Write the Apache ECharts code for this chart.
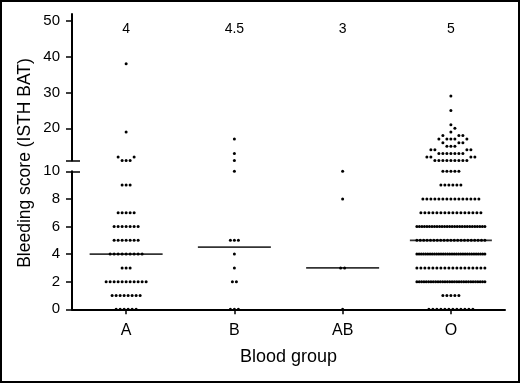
<!DOCTYPE html>
<html>
<head>
<meta charset="utf-8">
<script src="https://cdn.jsdelivr.net/npm/echarts@6/dist/echarts.min.js"></script>
<style>
html,body{margin:0;padding:0;background:#fff;}
#chart{width:520px;height:384px;}
</style>
</head>
<body>
<div id="chart"></div>
<script>
// ---- data (score, number of patients) ----
const categories = ['A', 'B', 'AB', 'O'];
const medianLabels = ['4', '4.5', '3', '5'];
const medians = [4, 4.5, 3, 5];
const groupA = [[0,6],[1,8],[2,11],[3,3],[4,9],[5,7],[6,7],[7,5],[9,3],[11,3],[12,2],[19,1],[38,1]];
const groupB = [[0,3],[2,2],[3,1],[4,1],[5,3],[10,1],[11,1],[13,1],[17,1]];
const groupAB = [[0,1],[3,2],[8,1],[10,1]];
const groupO = [[0,12],[1,5],[2,30],[3,18],[4,32],[5,21],[6,28],[7,16],[8,15],[9,6],[10,5],
  [11,9],[12,4],[13,7],[14,4],[15,3],[16,3],[17,5],[18,3],[19,1],[20,1],[21,1],[25,1],[29,1]];
const lowerTicks = [0, 2, 4, 6, 8, 10];
const upperTicks = [20, 30, 40, 50];
const lowerRange = [0, 10];
const upperRange = [11, 51.9];

// ---- styles ----
const FONT = 'Liberation Sans, Arial, Helvetica, sans-serif';
const medianLineWidths = [73, 73, 73, 82];

const groups = [groupA, groupB, groupAB, groupO];
const lowerPts = [], upperPts = [];
groups.forEach((g, ci) => {
  g.forEach(([score, n]) => {
    for (let k = 0; k < n; k++) {
      (score <= lowerRange[1] ? lowerPts : upperPts).push([ci, score]);
    }
  });
});

// beeswarm layout in pixel space (coordinates from the axes)
function swarm(points, px) {
  const S = 4, H = 4, MAXSPAN = 68, EPS = 1e-6;
  const out = new Array(points.length);
  const byCat = {};
  points.forEach((p, i) => { (byCat[p[0]] = byCat[p[0]] || []).push(i); });
  Object.keys(byCat).forEach(c => {
    const rows = {};
    byCat[c].forEach(i => { (rows[points[i][1]] = rows[points[i][1]] || []).push(i); });
    const keys = Object.keys(rows).map(Number).sort((a, b) => a - b);
    const placed = [];
    keys.forEach(k => {
      const mem = rows[k];
      const n = mem.length;
      const cx = px[mem[0]][0], cy = px[mem[0]][1];
      const sp = n > 1 ? Math.min(S, MAXSPAN / (n - 1)) : 0;
      const compact = mem.map((_, j) => (j - (n - 1) / 2) * sp);
      const near = placed.filter(q => Math.abs(q.y - cy) < H);
      const hit = (x, list) => list.some(q => Math.abs(q.x - x) < S - EPS);
      let xs;
      if (!compact.some(x => hit(x, near))) {
        xs = compact;
      } else {
        xs = [];
        for (let j = 0; j < n; j++) {
          const all = near.concat(xs.map(x => ({x: x, y: cy})));
          const cands = [0];
          all.forEach(q => { cands.push(q.x + S, q.x - S); });
          cands.sort((a, b) => (Math.abs(a) - Math.abs(b)) || (b - a));
          const x = cands.find(v => !hit(v, all));
          xs.push(x);
        }
      }
      xs.forEach((x, j) => {
        out[mem[j]] = [cx + x, cy];
        placed.push({x: x, y: cy});
      });
    });
  });
  return out;
}

function swarmSeries(axisIdx, points) {
  const cache = {px: null, pos: null};
  return {
    type: 'custom',
    xAxisIndex: axisIdx,
    yAxisIndex: axisIdx,
    data: points,
    silent: true,
    z: 3,
    renderItem: function (params, api) {
      const i = params.dataIndex;
      const c = api.coord(points[i]);
      if (!cache.pos || !cache.px || Math.abs(cache.px[i][0] - c[0]) > 0.01 || Math.abs(cache.px[i][1] - c[1]) > 0.01) {
        cache.px = points.map(p => api.coord(p));
        cache.pos = swarm(points, cache.px);
      }
      const p = cache.pos[i];
      return {type: 'circle', shape: {cx: p[0], cy: p[1], r: 1.5}, style: {fill: '#000'}};
    }
  };
}

const chart = echarts.init(document.getElementById('chart'), null, {renderer: 'canvas'});
const axisLine = {show: true, lineStyle: {color: '#000', width: 2}};
const tickStyle = {color: '#000', width: 1.5};

chart.setOption({
  animation: false,
  backgroundColor: '#fff',
  grid: [
    {left: 72, right: 15, top: 14, bottom: 223.4},
    {left: 72, right: 15, top: 171.3, bottom: 74.7}
  ],
  xAxis: [
    {
      type: 'category', gridIndex: 0, position: 'top', data: categories,
      axisLine: {show: false}, axisTick: {show: false}, splitLine: {show: false},
      axisLabel: {inside: true, margin: 8, color: '#000', fontSize: 14, fontFamily: FONT,
        formatter: (v, idx) => medianLabels[idx]}
    },
    {
      type: 'category', gridIndex: 1, position: 'bottom', data: categories,
      axisLine: axisLine,
      axisTick: {show: true, alignWithLabel: true, length: 5, lineStyle: tickStyle},
      axisLabel: {color: '#000', fontSize: 16, fontFamily: FONT, margin: 13},
      splitLine: {show: false},
      name: 'Blood group', nameLocation: 'middle', nameGap: 39,
      nameTextStyle: {color: '#000', fontSize: 18, fontFamily: FONT}
    }
  ],
  yAxis: [
    {
      type: 'value', gridIndex: 0, position: 'left', min: upperRange[0], max: upperRange[1],
      axisLine: axisLine,
      axisTick: {show: true, length: 6, lineStyle: tickStyle, customValues: [upperRange[0]].concat(upperTicks)},
      axisLabel: {color: '#000', fontSize: 15, fontFamily: FONT, margin: 12, customValues: upperTicks},
      splitLine: {show: false}
    },
    {
      type: 'value', gridIndex: 1, position: 'left', min: lowerRange[0], max: lowerRange[1], interval: 2,
      axisLine: axisLine,
      axisTick: {show: true, length: 6, lineStyle: tickStyle, customValues: lowerTicks},
      axisLabel: {color: '#000', fontSize: 15, fontFamily: FONT, margin: 12, customValues: lowerTicks},
      splitLine: {show: false}
    },
    {
      type: 'value', gridIndex: 0, position: 'left', offset: 0, min: upperRange[0], max: upperRange[1],
      axisLine: {show: false}, axisLabel: {show: false}, splitLine: {show: false},
      axisTick: {show: true, inside: true, length: 8, lineStyle: tickStyle, customValues: [upperRange[0]]}
    },
    {
      type: 'value', gridIndex: 1, position: 'left', offset: 0, min: lowerRange[0], max: lowerRange[1],
      axisLine: {show: false}, axisLabel: {show: false}, splitLine: {show: false},
      axisTick: {show: true, inside: true, length: 8, lineStyle: tickStyle, customValues: [lowerRange[1]]}
    }
  ],
  series: [
    swarmSeries(1, lowerPts),
    swarmSeries(0, upperPts),
    {
      type: 'scatter', xAxisIndex: 1, yAxisIndex: 1, symbol: 'rect', silent: true, z: 4,
      itemStyle: {color: '#000'},
      data: medians.map((m, i) => ({value: [i, m], symbolSize: [medianLineWidths[i], 1.7]}))
    }
  ],
  graphic: [
    {
      type: 'text', x: 25, y: 163, rotation: Math.PI / 2, silent: true,
      style: {text: 'Bleeding score (ISTH BAT)', fontSize: 17.5, fontFamily: FONT, fill: '#000',
        align: 'center', verticalAlign: 'middle'}
    },
    {
      type: 'rect', silent: true, z: 10,
      shape: {x: 1, y: 1, width: 518, height: 381},
      style: {fill: 'none', stroke: '#000', lineWidth: 2}
    }
  ]
});
</script>
</body>
</html>
